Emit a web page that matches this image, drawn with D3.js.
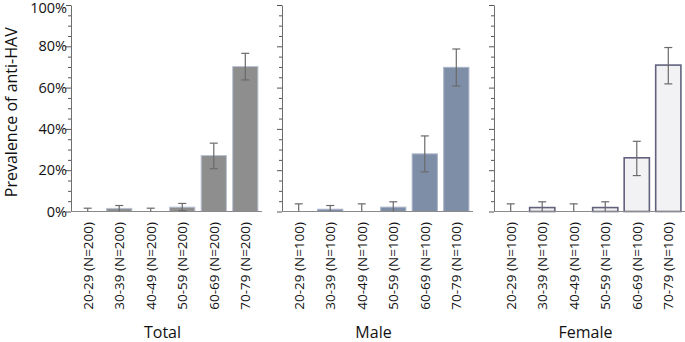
<!DOCTYPE html>
<html>
<head>
<meta charset="utf-8">
<script src="https://cdn.jsdelivr.net/npm/d3@7"></script>
<style>
  body { margin: 0; background: #fff; }
  text { font-family: "Open Sans", "Noto Sans", sans-serif; fill: #111; }
</style>
</head>
<body>
<script>
// age groups and panels
const ageGroups = ['20-29', '30-39', '40-49', '50-59', '60-69', '70-79']
const panelNames = ['Total', 'Male', 'Female']
const panelN = [200, 100, 100]
const yTicks = [0, 20, 40, 60, 80, 100]

// prevalence (%) and 95% CI per panel
const totalPrev = [0, 1.5, 0, 2.1, 27.1, 70.2]
const totalLow = [0, 0, 0, 0.4, 20.7, 63.7]
const totalHigh = [1.6, 2.9, 1.6, 3.9, 33.1, 76.6]

const malePrev = [0, 1.1, 0, 2.1, 27.9, 69.8]
const maleLow = [0, 0, 0, 0, 19.2, 60.8]
const maleHigh = [3.7, 2.9, 3.7, 4.7, 36.6, 78.7]

const femalePrev = [0, 1.9, 0, 1.9, 26.0, 70.9]
const femaleLow = [0, 0, 0, 0, 17.4, 61.8]
const femaleHigh = [3.7, 4.7, 3.7, 4.7, 34.0, 79.4]

const prevs = [totalPrev, malePrev, femalePrev]
const lows = [totalLow, maleLow, femaleLow]
const highs = [totalHigh, maleHigh, femaleHigh]

const fills = ['#8e8e8e', '#7f8ea7', '#f2f2f4']
const strokes = ['#b9c1d2', '#a9b3c8', '#62627e']
const strokeW = [1, 1, 1.6]

const W = 685, H = 342
const svg = d3.select('body').append('svg')
  .attr('width', W)
  .attr('height', H)

const panelX = [71, 282, 494]
const panelW = 191
const yscale = d3.scaleLinear().domain([0, 100]).range([211.5, 5])

const xscale = d3.scaleBand()
  .domain(ageGroups)
  .range([0, panelW])
  .paddingInner(0.2)
  .paddingOuter(0.13)

panelNames.forEach((name, p) => {
  const g = svg.append('g').attr('transform', `translate(${panelX[p]},0)`)

  // y axis: minor ticks every 5%, labelled majors on first panel
  const minor = d3.range(0, 101, 5)
  const ax = g.append('g').attr('class', 'y axis')
    .call(d3.axisLeft(yscale).tickValues(minor)
      .tickSize(3).tickSizeOuter(0)
      .tickFormat(d => (p === 0 && yTicks.includes(d)) ? d + '%' : ''))
  ax.select('.domain').attr('stroke', '#6e6e6e')
  ax.selectAll('.tick line')
    .attr('stroke', '#555')
    .attr('x2', d => yTicks.includes(d) ? -5 : -3)
  ax.selectAll('.tick text')
    .attr('x', -4)
    .attr('y', d => d === 100 ? 2.5 : 0)
    .style('font-size', '14.5px')
    .style('font-family', '"Open Sans", sans-serif')
    .attr('fill', '#111')

  const rows = ageGroups.map((a, i) => ({
    age: a, v: prevs[p][i], lo: lows[p][i], hi: highs[p][i]
  }))

  g.selectAll('rect.bar')
    .data(rows)
    .join('rect')
    .attr('class', 'bar')
    .attr('x', d => xscale(d.age))
    .attr('width', xscale.bandwidth())
    .attr('y', d => yscale(d.v))
    .attr('height', d => yscale(0) - yscale(d.v))
    .attr('fill', fills[p])
    .attr('stroke', strokes[p])
    .attr('stroke-width', d => d.v > 0 ? strokeW[p] : 0)

  // baseline
  g.append('line')
    .attr('x1', 0).attr('x2', panelW)
    .attr('y1', yscale(0)).attr('y2', yscale(0))
    .attr('stroke', '#8a8a8a')

  // error bars
  const cx = d => xscale(d.age) + xscale.bandwidth() / 2
  const eb = g.selectAll('g.err').data(rows).join('g').attr('class', 'err')
    .attr('stroke', '#6a6a6a').attr('stroke-width', 1.2)
  eb.append('line')
    .attr('x1', cx).attr('x2', cx)
    .attr('y1', d => yscale(d.lo)).attr('y2', d => yscale(d.hi))
  eb.append('line')
    .attr('x1', d => cx(d) - 4).attr('x2', d => cx(d) + 4)
    .attr('y1', d => yscale(d.hi)).attr('y2', d => yscale(d.hi))
  eb.filter(d => d.lo > 0).append('line')
    .attr('x1', d => cx(d) - 4).attr('x2', d => cx(d) + 4)
    .attr('y1', d => yscale(d.lo)).attr('y2', d => yscale(d.lo))

  // rotated category labels
  g.selectAll('text.cat')
    .data(ageGroups)
    .join('text')
    .attr('class', 'cat')
    .attr('transform', d => `translate(${xscale(d) + xscale.bandwidth() / 2 + 5},222) rotate(-90)`)
    .attr('text-anchor', 'end')
    .style('font-size', '13.5px')
    .text(d => `${d} (N=${panelN[p]})`)

  g.append('text')
    .attr('x', panelW / 2 - 4)
    .attr('y', 338)
    .attr('text-anchor', 'middle')
    .style('font-size', '16px')
    .text(name)
})

svg.append('text')
  .attr('transform', `translate(17,${(yscale(0) + yscale(100)) / 2 + 4}) rotate(-90)`)
  .attr('text-anchor', 'middle')
  .style('font-size', '16px')
  .text('Prevalence of anti-HAV')
</script>
</body>
</html>
